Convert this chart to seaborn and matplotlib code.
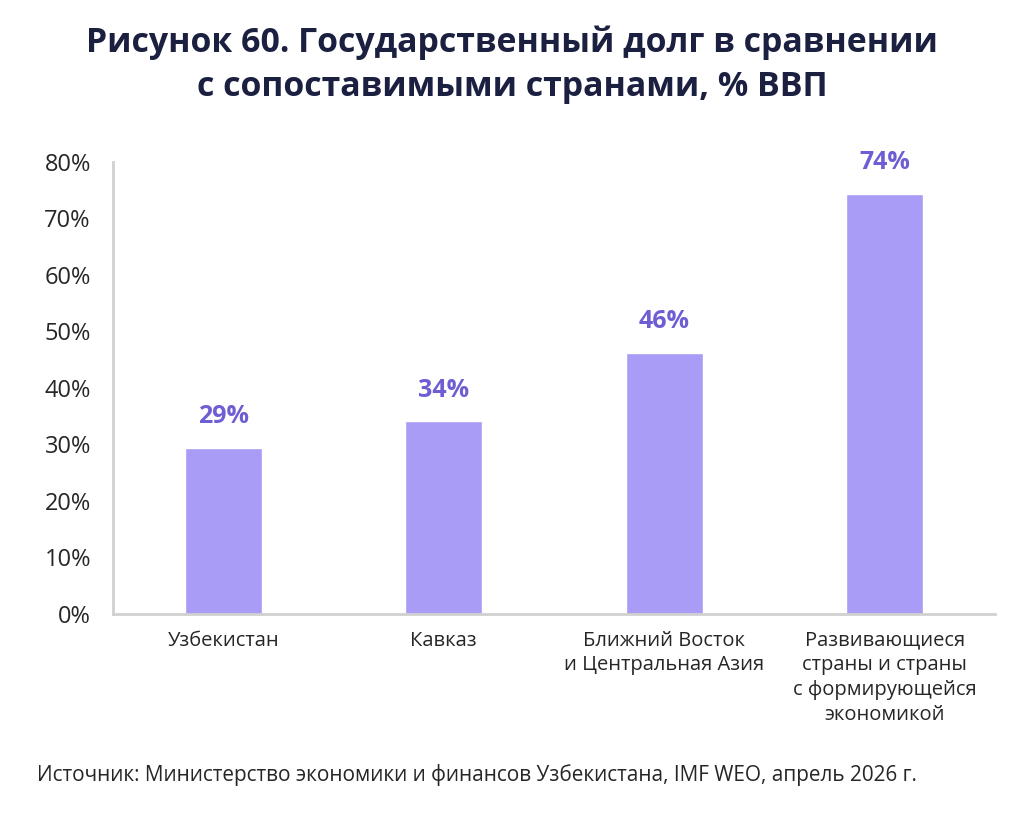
import matplotlib
matplotlib.use("Agg")
import matplotlib.pyplot as plt
import seaborn as sns
import pandas as pd

# data
categories = [
    "Узбекистан",
    "Кавказ",
    "Ближний Восток\nи Центральная Азия",
    "Развивающиеся\nстраны и страны\nс формирующейся\nэкономикой",
]
debt_pct = [29.4, 34.1, 46.2, 74.4]
y_ticks = [0, 10, 20, 30, 40, 50, 60, 70, 80]

title = "Рисунок 60. Государственный долг в сравнении\nс сопоставимыми странами, % ВВП"
source = "Источник: Министерство экономики и финансов Узбекистана, IMF WEO, апрель 2026 г."

bar_color = "#A99CF6"
label_color = "#6D5ED4"
title_color = "#1B2040"
text_color = "#262626"
axis_color = "#D0D0D0"

sns.set_theme(style="white")
plt.rcParams["font.family"] = ["Open Sans", "DejaVu Sans"]

df = pd.DataFrame({"Region": categories, "Debt": debt_pct})

fig = plt.figure(figsize=(10.24, 8.14), dpi=100)
ax = fig.add_axes([0.1104, 0.2457, 0.8613, 0.5553])

sns.barplot(data=df, x="Region", y="Debt", color=bar_color, width=0.35,
            saturation=1, ax=ax)

for i, v in enumerate(debt_pct):
    ax.text(i, v + 3.3, f"{round(v)}%", ha="center", va="bottom",
            fontsize=18, fontweight="bold", color=label_color)

ax.set_ylim(0, 80)
ax.set_xlim(-0.5, 3.5)
ax.set_yticks(y_ticks)
ax.set_yticklabels([f"{t}%" for t in y_ticks], fontsize=17, color=text_color)
ax.tick_params(axis="x", labelsize=14.5, colors=text_color, pad=12, length=0)
ax.tick_params(axis="y", length=0, pad=16)
for lbl in ax.get_xticklabels():
    lbl.set_linespacing(1.32)
ax.set_xlabel("")
ax.set_ylabel("")

for side in ["top", "right"]:
    ax.spines[side].set_visible(False)
for side in ["left", "bottom"]:
    ax.spines[side].set_color(axis_color)
    ax.spines[side].set_linewidth(2)

fig.text(0.5, 0.92, title, ha="center", va="center", fontsize=24.4,
         fontweight="bold", color=title_color, linespacing=1.38)
fig.text(0.036, 0.048, source, ha="left", va="center", fontsize=14.95,
         color=text_color)

fig.savefig("out.png", dpi=100, facecolor="white")
